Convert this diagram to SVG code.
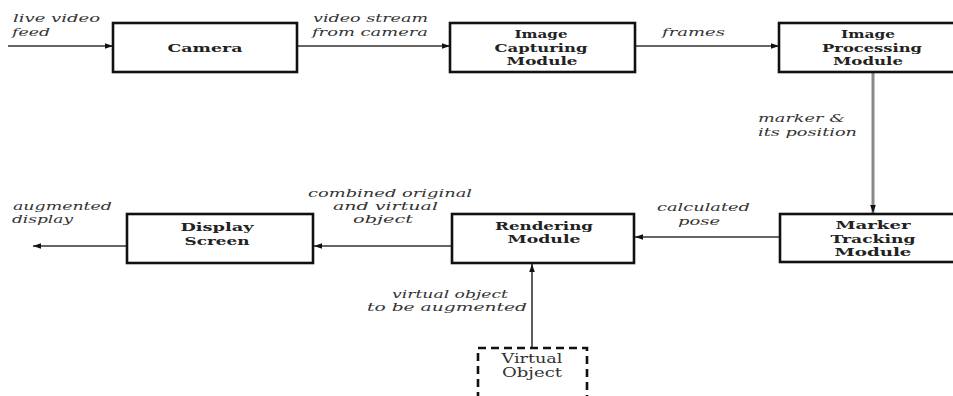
<svg xmlns="http://www.w3.org/2000/svg" width="953" height="396" viewBox="0 0 953 396">
<style>
.box{fill:#fff;stroke:#111;stroke-width:2.6}
.vbox{fill:#fff;stroke:#111;stroke-width:2.6;stroke-dasharray:8 5}
.lbl{font-family:"DejaVu Serif",serif;font-weight:bold;font-size:11.5px;fill:#222;text-anchor:middle}
.vlbl{font-family:"DejaVu Serif",serif;font-size:12.5px;fill:#333;text-anchor:middle}
.it{font-family:"DejaVu Serif",serif;font-style:italic;font-size:11px;fill:#333}
.ln{stroke:#333;stroke-width:1.6;fill:none}
.gl{stroke:#888;stroke-width:3;fill:none}
</style>
<defs>
<marker id="ah" viewBox="0 0 10 10" refX="10" refY="5" markerWidth="8" markerHeight="8" markerUnits="userSpaceOnUse" orient="auto">
<path d="M0,1.5 L10,5 L0,8.5 z" fill="#111"/>
</marker>
</defs>
<rect width="953" height="396" fill="#fff"/>
<g id="connectors">
<line class="ln" x1="8" y1="46" x2="113" y2="46" marker-end="url(#ah)"/>
<line class="ln" x1="297" y1="46" x2="450" y2="46" marker-end="url(#ah)"/>
<line class="ln" x1="635" y1="46" x2="779" y2="46" marker-end="url(#ah)"/>
<line class="gl" x1="873" y1="72" x2="873" y2="213" marker-end="url(#ah)"/>
<line class="ln" x1="780" y1="237" x2="635" y2="237" marker-end="url(#ah)"/>
<line class="ln" x1="452" y1="246" x2="314" y2="246" marker-end="url(#ah)"/>
<line class="ln" x1="127" y1="246" x2="33" y2="246" marker-end="url(#ah)"/>
<line class="ln" x1="532" y1="348" x2="532" y2="264" marker-end="url(#ah)"/>
<text class="it" x="13" y="22" textLength="87" lengthAdjust="spacingAndGlyphs">live video</text>
<text class="it" x="12" y="36" textLength="38" lengthAdjust="spacingAndGlyphs">feed</text>
<text class="it" x="313" y="22" textLength="115" lengthAdjust="spacingAndGlyphs">video stream</text>
<text class="it" x="312" y="36" textLength="116" lengthAdjust="spacingAndGlyphs">from camera</text>
<text class="it" x="662" y="36" textLength="63" lengthAdjust="spacingAndGlyphs">frames</text>
<text class="it" x="758" y="122" textLength="87" lengthAdjust="spacingAndGlyphs">marker &amp;</text>
<text class="it" x="758" y="136" textLength="99" lengthAdjust="spacingAndGlyphs">its position</text>
<text class="it" x="657" y="211" textLength="93" lengthAdjust="spacingAndGlyphs">calculated</text>
<text class="it" x="678" y="225" textLength="42" lengthAdjust="spacingAndGlyphs">pose</text>
<text class="it" x="308" y="197" textLength="164" lengthAdjust="spacingAndGlyphs">combined original</text>
<text class="it" x="333" y="210" textLength="105" lengthAdjust="spacingAndGlyphs">and  virtual</text>
<text class="it" x="353" y="223" textLength="60" lengthAdjust="spacingAndGlyphs">object</text>
<text class="it" x="13" y="210" textLength="99" lengthAdjust="spacingAndGlyphs">augmented</text>
<text class="it" x="12" y="223" textLength="61" lengthAdjust="spacingAndGlyphs">display</text>
<text class="it" x="392" y="298" textLength="116" lengthAdjust="spacingAndGlyphs">virtual object</text>
<text class="it" x="367" y="311" textLength="160" lengthAdjust="spacingAndGlyphs">to be augmented</text>
</g>
<g id="camera">
<rect class="box" x="113" y="23" width="184" height="49"/>
<text class="lbl" x="205" y="52" textLength="75" lengthAdjust="spacingAndGlyphs">Camera</text>
</g>
<g id="image-capturing">
<rect class="box" x="450" y="23" width="185" height="49"/>
<text class="lbl" x="541" y="38" textLength="53" lengthAdjust="spacingAndGlyphs">Image</text>
<text class="lbl" x="541" y="51.5" textLength="93" lengthAdjust="spacingAndGlyphs">Capturing</text>
<text class="lbl" x="542" y="65" textLength="71" lengthAdjust="spacingAndGlyphs">Module</text>
</g>
<g id="image-processing">
<rect class="box" x="779" y="23" width="180" height="49"/>
<text class="lbl" x="868" y="38" textLength="54" lengthAdjust="spacingAndGlyphs">Image</text>
<text class="lbl" x="872" y="51.5" textLength="100" lengthAdjust="spacingAndGlyphs">Processing</text>
<text class="lbl" x="868" y="65" textLength="70" lengthAdjust="spacingAndGlyphs">Module</text>
</g>
<g id="marker-tracking">
<rect class="box" x="780" y="214" width="180" height="48"/>
<text class="lbl" x="873" y="229" textLength="75" lengthAdjust="spacingAndGlyphs">Marker</text>
<text class="lbl" x="873" y="242.5" textLength="85" lengthAdjust="spacingAndGlyphs">Tracking</text>
<text class="lbl" x="873" y="256" textLength="77" lengthAdjust="spacingAndGlyphs">Module</text>
</g>
<g id="rendering">
<rect class="box" x="452" y="214" width="182" height="49"/>
<text class="lbl" x="544" y="229.5" textLength="98" lengthAdjust="spacingAndGlyphs">Rendering</text>
<text class="lbl" x="544" y="243" textLength="73" lengthAdjust="spacingAndGlyphs">Module</text>
</g>
<g id="display-screen">
<rect class="box" x="127" y="214" width="186" height="49"/>
<text class="lbl" x="217" y="231" textLength="73" lengthAdjust="spacingAndGlyphs">Display</text>
<text class="lbl" x="217" y="245" textLength="65" lengthAdjust="spacingAndGlyphs">Screen</text>
</g>
<g id="virtual-object">
<rect class="vbox" x="478" y="348" width="109" height="60"/>
<text class="vlbl" x="532" y="363" textLength="61" lengthAdjust="spacingAndGlyphs">Virtual</text>
<text class="vlbl" x="532" y="377" textLength="60" lengthAdjust="spacingAndGlyphs">Object</text>
</g>
</svg>
